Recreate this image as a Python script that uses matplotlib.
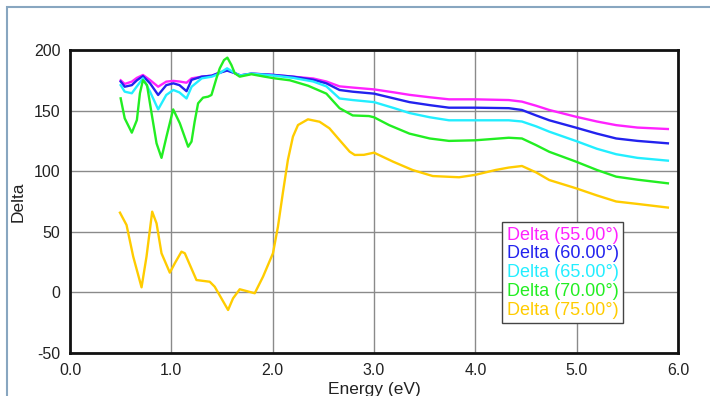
import numpy as np
import matplotlib
matplotlib.use('Agg')
import matplotlib.pyplot as plt
from matplotlib.patches import Rectangle

plt.rcParams['font.family'] = ['Liberation Sans', 'DejaVu Sans']

# curves (energy in eV, Delta in degrees)
e_top = [0.50, 0.54, 0.61, 0.66, 0.72, 0.79, 0.87, 0.95, 1.02, 1.08, 1.15, 1.20, 1.30, 1.40, 1.46, 1.55,
         1.63, 1.68, 1.79, 2.00, 2.20, 2.40, 2.53, 2.66, 2.79, 3.00, 3.20, 3.35, 3.55, 3.74, 4.00, 4.33,
         4.46, 4.60, 4.73, 4.99, 5.20, 5.39, 5.60, 5.90]
d55 = [175, 172, 173.9, 177, 179.4, 175.2, 169.7, 173.9, 174.5, 174, 173, 176.6, 178, 178.8, 180.8, 183.5,
       180.8, 179, 180.5, 179.5, 178, 176.5, 174, 170, 169, 167.5, 165, 163, 161, 159.3, 159.3, 158.7,
       157.4, 154, 150.5, 145, 141, 138, 136, 134.8]
d60 = [174, 169.7, 171, 175, 178.5, 172.5, 162.9, 171, 172.5, 171, 166, 175.4, 178, 178.8, 180.8, 183,
       180.8, 179, 180.5, 179.5, 178, 175.5, 172.5, 167, 165.6, 164, 160, 157, 154.5, 152.4, 152.4, 152,
       150.5, 146, 142, 136, 131, 127, 125, 123]
d65 = [171, 165.6, 164.3, 170, 176.6, 165.6, 151, 162.9, 167, 165, 160, 169.7, 176.6, 178, 180, 184.9,
       180.8, 179, 180.5, 179, 177, 174, 170, 160, 158.7, 157, 152, 148, 144.5, 142, 142, 142,
       141, 137, 132.6, 125, 118.5, 114, 111, 108.7]

e70 = [0.50, 0.54, 0.61, 0.66, 0.69, 0.72, 0.76, 0.805, 0.854, 0.903, 0.952, 1.018, 1.084, 1.166, 1.199,
       1.23, 1.264, 1.313, 1.363, 1.396, 1.445, 1.478, 1.52, 1.553, 1.593, 1.626, 1.675, 1.79, 1.92, 2.02,
       2.17, 2.35, 2.53, 2.66, 2.79, 2.95, 3.00, 3.15, 3.35, 3.55, 3.74, 4.00, 4.33, 4.46, 4.60, 4.73,
       4.99, 5.20, 5.39, 5.60, 5.90]
d70 = [160.1, 143.6, 131.8, 142.2, 164.3, 175.2, 171, 147.8, 123, 111, 128.5, 151, 139.5, 120.2, 124.4,
       140.8, 156, 160.7, 161.5, 162.9, 176.6, 184.9, 191.7, 193.7, 187.6, 180.8, 178, 180, 178, 176.6,
       175, 170.5, 164, 152, 146, 145.5, 144.5, 138, 131, 127, 125, 125.5, 127.6, 127, 121.5, 116,
       108, 101, 95.5, 93, 90]

e75 = [0.493, 0.558, 0.624, 0.706, 0.755, 0.811, 0.854, 0.903, 0.985, 1.034, 1.10, 1.133, 1.248, 1.379,
       1.428, 1.56, 1.609, 1.675, 1.823, 1.905, 2.003, 2.052, 2.10, 2.15, 2.20, 2.25, 2.348, 2.463, 2.56,
       2.66, 2.76, 2.81, 2.90, 3.00, 3.19, 3.38, 3.58, 3.84, 4.00, 4.20, 4.33, 4.46, 4.60, 4.73, 4.99,
       5.20, 5.39, 5.60, 5.90]
d75 = [65.8, 55.6, 29.5, 4.2, 29.5, 66.6, 57, 32.3, 16.3, 24, 33.6, 32.3, 10.2, 8.8,
       4.7, -14.5, -4.9, 2.6, -0.7, 13, 32.3, 54.2, 81.8, 109.2, 128.5, 138.1, 142.8, 140.8, 135.4,
       125.7, 116.1, 113.4, 113.5, 115.3, 107.8, 101, 96, 95, 97, 101, 103, 104.3, 99, 92.7, 86,
       80, 75, 73, 70]

labels = ['Delta (55.00°)', 'Delta (60.00°)', 'Delta (65.00°)', 'Delta (70.00°)', 'Delta (75.00°)']
colors = ['#ff22ff', '#2222ee', '#22eeff', '#22ee22', '#ffcc00']
xticks = [0, 1, 2, 3, 4, 5, 6]
yticks = [-50, 0, 50, 100, 150, 200]

fig = plt.figure(figsize=(7.1, 3.96), dpi=100)
W, H = 710, 396
# outer frame of the original window
fig.patches.append(Rectangle((7 / W, -0.1), 1.2, 1 - 7 / H + 0.1, transform=fig.transFigure,
                             fill=False, edgecolor='#88a6c0', lw=1.5))
ax = fig.add_axes([70 / W, 1 - 353 / H, 608 / W, 303 / H])

series = [(e_top, d55), (e_top, d60), (e_top, d65), (e70, d70), (e75, d75)]
for (ex, dy), c, lab in zip(series, colors, labels):
    ax.plot(ex, dy, color=c, lw=1.7, label=lab, solid_joinstyle='round')

ax.set_xlim(0, 6)
ax.set_ylim(-50, 200)
ax.set_xticks(xticks)
ax.set_xticklabels(['%.1f' % v for v in xticks])
ax.set_yticks(yticks)
ax.set_yticklabels([str(v) for v in yticks])
ax.tick_params(length=0, labelsize=11.5, pad=7, colors='#222222')
ax.grid(True, color='#8a8a8a', lw=1)
ax.set_axisbelow(True)
for s in ax.spines.values():
    s.set_linewidth(2)
    s.set_color('#111111')
ax.set_xlabel('Energy (eV)', fontsize=12.5, labelpad=3, color='#222222')
ax.set_ylabel('Delta', fontsize=12.5, labelpad=6, color='#222222')

leg = ax.legend(loc='upper left', bbox_to_anchor=(502 / W, 1 - 222 / H), bbox_transform=fig.transFigure,
                handlelength=0, handletextpad=0, fancybox=False, framealpha=1, fontsize=13,
                borderpad=0.25, labelspacing=0.1, borderaxespad=0)
leg.get_frame().set_edgecolor('#444444')
leg.get_frame().set_linewidth(1)
for h in leg.legend_handles:
    h.set_visible(False)
for t, c in zip(leg.get_texts(), colors):
    t.set_color(c)

fig.savefig('out.png', dpi=100)
